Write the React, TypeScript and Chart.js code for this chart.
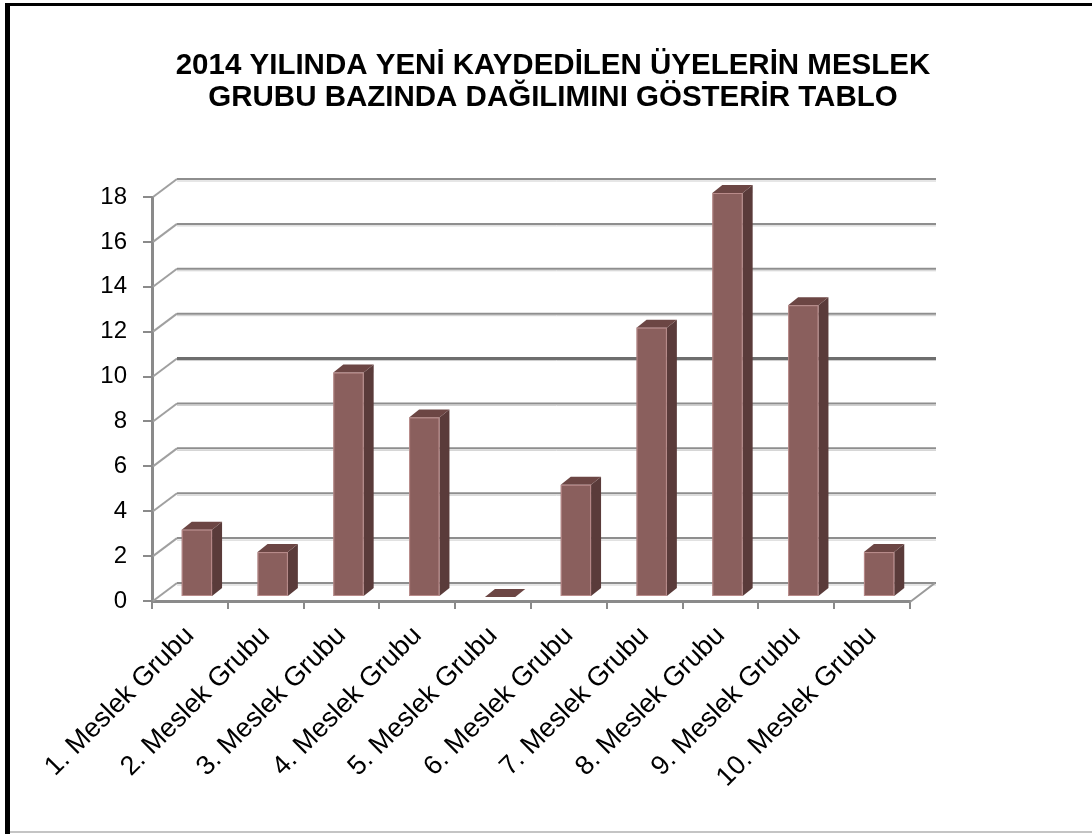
import { useEffect, useRef } from 'react';
import { Chart, registerables } from 'chart.js';

Chart.register(...registerables);

const categories = [
  '1. Meslek Grubu',
  '2. Meslek Grubu',
  '3. Meslek Grubu',
  '4. Meslek Grubu',
  '5. Meslek Grubu',
  '6. Meslek Grubu',
  '7. Meslek Grubu',
  '8. Meslek Grubu',
  '9. Meslek Grubu',
  '10. Meslek Grubu',
];
const values = [3, 2, 10, 8, 0, 5, 12, 18, 13, 2];
const yTicks = [0, 2, 4, 6, 8, 10, 12, 14, 16, 18];
const titleLines = [
  '2014 YILINDA YENİ KAYDEDİLEN ÜYELERİN MESLEK',
  'GRUBU BAZINDA DAĞILIMINI GÖSTERİR TABLO',
];

const FONT = "'Liberation Sans', Arial, sans-serif";
const DEPTH = { x: 25, y: -18 };
const BAR_SHIFT = { x: 7, y: -4 };
const BAR_DEPTH = { x: 10, y: -8 };

const framePlugin = {
  id: 'frame3d',
  beforeDraw(chart: any) {
    const { ctx, width, height } = chart;
    ctx.save();
    ctx.fillStyle = '#ffffff';
    ctx.fillRect(0, 0, width, height);
    // frame
    ctx.fillStyle = '#000000';
    ctx.fillRect(5, 3, width - 5, 3);
    ctx.fillRect(5, 3, 5, height - 3);
    ctx.fillStyle = '#c4c4c4';
    ctx.fillRect(10, 831, width - 10, 2);
    // title
    ctx.fillStyle = '#000000';
    ctx.font = `bold 29.5px ${FONT}`;
    ctx.textAlign = 'center';
    ctx.textBaseline = 'alphabetic';
    ctx.fillText(titleLines[0], 553, 74);
    ctx.fillText(titleLines[1], 553, 106);
    ctx.restore();
  },
  beforeDatasetsDraw(chart: any) {
    const { ctx, chartArea, scales } = chart;
    const ys = scales.y;
    ctx.save();
    yTicks.forEach((v) => {
      const py = ys.getPixelForValue(v);
      // diagonal connector on the left side wall
      ctx.strokeStyle = '#a0a0a0';
      ctx.lineWidth = 2;
      ctx.beginPath();
      ctx.moveTo(chartArea.left + 1, py);
      ctx.lineTo(chartArea.left + DEPTH.x, py + DEPTH.y);
      ctx.stroke();
      // back wall gridline
      const gy = py + DEPTH.y;
      ctx.strokeStyle = v === 10 ? '#6e6e6e' : '#8e8e8e';
      ctx.lineWidth = v === 10 ? 3 : 2;
      ctx.beginPath();
      ctx.moveTo(chartArea.left + DEPTH.x, gy);
      ctx.lineTo(chartArea.right + DEPTH.x + 1, gy);
      ctx.stroke();
      ctx.strokeStyle = 'rgba(200,200,200,0.9)';
      ctx.lineWidth = 1;
      ctx.beginPath();
      ctx.moveTo(chartArea.left + DEPTH.x, gy + 2);
      ctx.lineTo(chartArea.right + DEPTH.x + 1, gy + 2);
      ctx.stroke();
    });
    // floor right edge
    const by = ys.getPixelForValue(0);
    ctx.strokeStyle = '#9a9a9a';
    ctx.lineWidth = 2;
    ctx.beginPath();
    ctx.moveTo(chartArea.right, by + 1);
    ctx.lineTo(chartArea.right + DEPTH.x, by + DEPTH.y);
    ctx.stroke();
    ctx.restore();
  },
  afterDatasetsDraw(chart: any) {
    const { ctx } = chart;
    const meta = chart.getDatasetMeta(0);
    ctx.save();
    meta.data.forEach((el: any) => {
      const { x, y, base, width } = el.getProps(['x', 'y', 'base', 'width'], true);
      const L = x - width / 2 + BAR_SHIFT.x;
      const R = x + width / 2 + BAR_SHIFT.x;
      const T = y + BAR_SHIFT.y;
      const B = base + BAR_SHIFT.y;
      const dx = BAR_DEPTH.x;
      const dy = BAR_DEPTH.y;
      // side face
      ctx.fillStyle = '#5a3b3a';
      ctx.beginPath();
      ctx.moveTo(R, T);
      ctx.lineTo(R + dx, T + dy);
      ctx.lineTo(R + dx, B + dy);
      ctx.lineTo(R, B);
      ctx.closePath();
      ctx.fill();
      // top face
      ctx.fillStyle = '#6c4644';
      ctx.beginPath();
      ctx.moveTo(L, T);
      ctx.lineTo(R, T);
      ctx.lineTo(R + dx, T + dy);
      ctx.lineTo(L + dx, T + dy);
      ctx.closePath();
      ctx.fill();
      // front face
      if (B - T > 0.5) {
        ctx.fillStyle = '#8a5f5d';
        ctx.fillRect(L, T, R - L, B - T);
        ctx.strokeStyle = 'rgba(196,150,150,0.8)';
        ctx.lineWidth = 1;
        ctx.strokeRect(L + 0.5, T + 0.5, R - L - 1, B - T - 1);
      }
    });
    ctx.restore();
  },
};

export default function App() {
  const canvasRef = useRef<HTMLCanvasElement | null>(null);

  useEffect(() => {
    if (!canvasRef.current) return;
    const chart = new Chart(canvasRef.current, {
      type: 'bar',
      data: {
        labels: categories,
        datasets: [
          {
            data: values,
            backgroundColor: 'rgba(0,0,0,0)',
            borderWidth: 0,
            categoryPercentage: 1,
            barPercentage: 0.4,
          },
        ],
      },
      options: {
        responsive: false,
        animation: false,
        events: [],
        layout: { padding: { top: 197, left: 0, right: 182, bottom: 0 } },
        plugins: {
          legend: { display: false },
          title: { display: false },
          tooltip: { enabled: false },
        },
        scales: {
          x: {
            grid: {
              display: true,
              drawOnChartArea: false,
              drawTicks: true,
              tickLength: 8,
              color: '#8a8a8a',
              lineWidth: 2,
              offset: true,
            },
            border: { display: true, color: '#8a8a8a', width: 3 },
            ticks: {
              autoSkip: false,
              maxRotation: 45,
              minRotation: 45,
              padding: 11,
              color: '#000000',
              font: { family: FONT, size: 27 },
            },
            afterFit: (scale: any) => {
              scale.height = 834 - 601;
            },
          },
          y: {
            min: 0,
            max: 18,
            grid: {
              display: true,
              drawOnChartArea: false,
              drawTicks: true,
              tickLength: 9,
              color: '#8a8a8a',
              lineWidth: 2,
            },
            border: { display: true, color: '#8a8a8a', width: 3 },
            ticks: {
              stepSize: 2,
              padding: 16,
              color: '#000000',
              font: { family: FONT, size: 24 },
            },
            afterFit: (scale: any) => {
              scale.width = 152;
            },
          },
        },
      },
      plugins: [framePlugin],
    });
    return () => chart.destroy();
  }, []);

  return (
    <div style={{ position: 'absolute', left: 0, top: 0, width: 1092, height: 834 }}>
      <canvas ref={canvasRef} width={1092} height={834} />
    </div>
  );
}
